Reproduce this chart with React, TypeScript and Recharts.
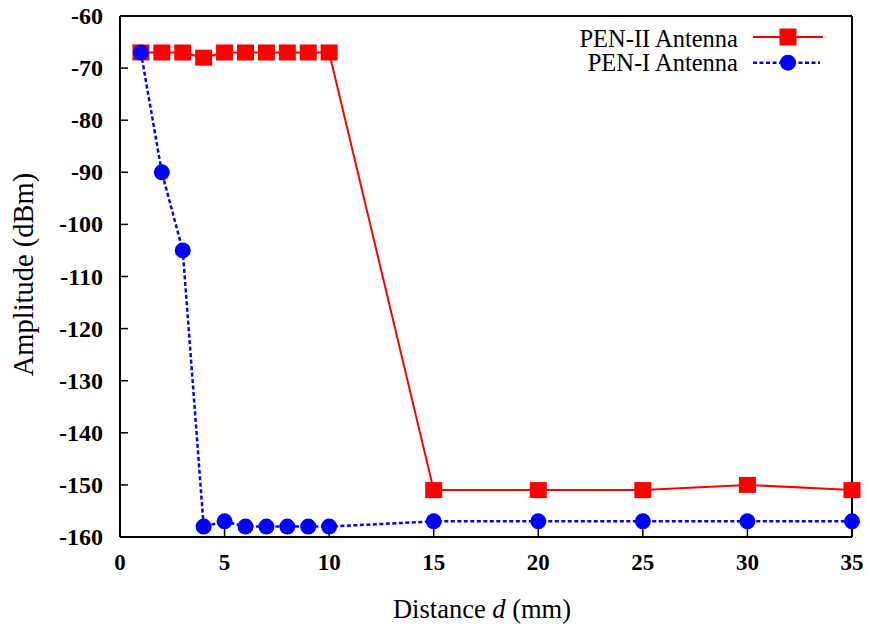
import React from "react";
import { LineChart, Line, XAxis, YAxis, Legend } from "recharts";

const DISTANCE = [1, 2, 3, 4, 5, 6, 7, 8, 9, 10, 15, 20, 25, 30, 35];
const PEN2 = [-67, -67, -67, -68, -67, -67, -67, -67, -67, -67, -151, -151, -151, -150, -151];
const PEN1 = [-67, -90, -105, -158, -157, -158, -158, -158, -158, -158, -157, -157, -157, -157, -157];
const X_TICKS = [0, 5, 10, 15, 20, 25, 30, 35];
const Y_TICKS = [-160, -150, -140, -130, -120, -110, -100, -90, -80, -70, -60];
const SERIES_NAMES = ["PEN-II Antenna", "PEN-I Antenna"];

const data = DISTANCE.map((x, i) => ({ x, pen2: PEN2[i], pen1: PEN1[i] }));

const FONT = "Liberation Serif";
const RED = "#ff0000";
const BLUE = "#0000ff";

const SquareDot = (props: any) => {
  const { cx, cy, index } = props;
  if (cx == null || cy == null) return <g key={index} />;
  return <rect key={index} x={cx - 8.5} y={cy - 8} width={17} height={16} fill={RED} />;
};

const renderXTick = (props: any) => {
  const { x, y, payload, index } = props;
  return (
    <text
      key={index}
      x={x}
      y={y}
      dy={22}
      textAnchor="middle"
      style={{ fontFamily: FONT, fontSize: 23, fontWeight: "bold" }}
      fill="#000"
    >
      {payload.value}
    </text>
  );
};

const renderYTick = (props: any) => {
  const { x, y, payload, index } = props;
  return (
    <text
      key={index}
      x={x}
      y={y}
      dy={8}
      textAnchor="end"
      style={{ fontFamily: FONT, fontSize: 24, fontWeight: "bold" }}
      fill="#000"
    >
      {payload.value}
    </text>
  );
};

const LegendContent = () => (
  <svg width={290} height={60} style={{ display: "block", overflow: "visible" }}>
    <text x={178} y={26.7} textAnchor="end" style={{ fontFamily: FONT, fontSize: 24.5 }} fill="#000">
      {SERIES_NAMES[0]}
    </text>
    <line x1={193} x2={263} y1={17} y2={17} stroke={RED} strokeWidth={2} />
    <rect x={228 - 8.5} y={17 - 8.5} width={17} height={17} fill={RED} />
    <text x={178} y={50.7} textAnchor="end" style={{ fontFamily: FONT, fontSize: 24.5 }} fill="#000">
      {SERIES_NAMES[1]}
    </text>
    <line x1={193} x2={260} y1={42.7} y2={42.7} stroke={BLUE} strokeWidth={2.5} strokeDasharray="4 2.5" />
    <circle cx={228} cy={42.7} r={8} fill={BLUE} />
  </svg>
);

const XTitle = (props: any) => {
  const vb = props.viewBox;
  return (
    <text
      x={vb.x + vb.width / 2 - 4}
      y={vb.y + 81}
      textAnchor="middle"
      style={{ fontFamily: FONT, fontSize: 26.5 }}
      fill="#000"
    >
      Distance <tspan fontStyle="italic">d</tspan> (mm)
    </text>
  );
};

const YTitle = (props: any) => {
  const vb = props.viewBox;
  const cx = vb.x + 33;
  const cy = vb.y + vb.height / 2 - 2;
  return (
    <text
      x={cx}
      y={cy}
      transform={`rotate(-90, ${cx}, ${cy})`}
      textAnchor="middle"
      style={{ fontFamily: FONT, fontSize: 28.5 }}
      fill="#000"
    >
      Amplitude (dBm)
    </text>
  );
};

export default function App() {
  const axisLine = { stroke: "#000", strokeWidth: 2 };
  const tickLine = { stroke: "#000", strokeWidth: 1.5 };
  return (
    <div style={{ width: 870, height: 627, fontFamily: FONT }}>
      <style>{"body{margin:0;}"}</style>
      <LineChart
        width={870}
        height={627}
        data={data}
        margin={{ top: 15, right: 17, left: 0, bottom: 0 }}
      >
        <XAxis
          dataKey="x"
          type="number"
          domain={[0, 35]}
          ticks={X_TICKS}
          interval={0}
          height={90}
          tickSize={-8}
          tickMargin={19}
          tick={renderXTick}
          axisLine={axisLine}
          tickLine={tickLine}
          label={<XTitle />}
        />
        <XAxis
          xAxisId="top"
          orientation="top"
          dataKey="x"
          type="number"
          domain={[0, 35]}
          ticks={X_TICKS}
          interval={0}
          height={1}
          tickSize={-8}
          tick={false}
          axisLine={axisLine}
          tickLine={tickLine}
        />
        <YAxis
          type="number"
          domain={[-160, -60]}
          ticks={Y_TICKS}
          interval={0}
          width={120}
          tickSize={-8}
          tickMargin={25}
          tick={renderYTick}
          axisLine={axisLine}
          tickLine={tickLine}
          label={<YTitle />}
        />
        <YAxis
          yAxisId="right"
          orientation="right"
          type="number"
          domain={[-160, -60]}
          ticks={Y_TICKS}
          interval={0}
          width={1}
          tickSize={-8}
          tick={false}
          axisLine={axisLine}
          tickLine={tickLine}
        />
        <Legend
          layout="vertical"
          align="center"
          verticalAlign="middle"
          wrapperStyle={{ position: "absolute", left: 560, top: 20, width: 290, height: 60 }}
          content={<LegendContent />}
        />
        <Line
          type="linear"
          dataKey="pen2"
          name={SERIES_NAMES[0]}
          stroke={RED}
          strokeWidth={2}
          dot={<SquareDot />}
          activeDot={false}
          isAnimationActive={false}
        />
        <Line
          type="linear"
          dataKey="pen1"
          name={SERIES_NAMES[1]}
          stroke={BLUE}
          strokeWidth={2.5}
          strokeDasharray="4 2.5"
          dot={{ r: 8, fill: BLUE, stroke: "none" }}
          activeDot={false}
          isAnimationActive={false}
        />
      </LineChart>
    </div>
  );
}
